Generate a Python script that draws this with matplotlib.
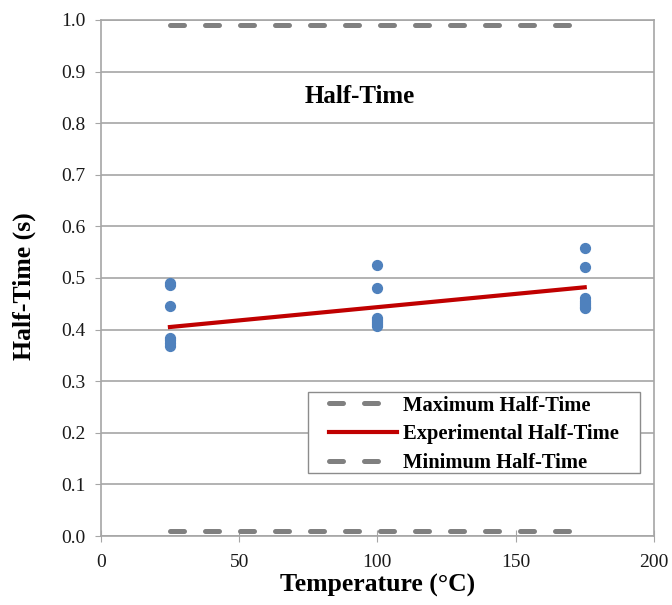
import matplotlib
matplotlib.use("Agg")
import matplotlib.pyplot as plt
from matplotlib.patches import Rectangle
import numpy as np

plt.rcParams['font.family'] = ['Liberation Serif', 'DejaVu Serif']

# Data
temps_25 = [25]*7
vals_25 = [0.490, 0.487, 0.446, 0.384, 0.379, 0.374, 0.369]
temps_100 = [100]*7
vals_100 = [0.525, 0.481, 0.422, 0.418, 0.414, 0.410, 0.407]
temps_175 = [175]*8
vals_175 = [0.558, 0.521, 0.461, 0.456, 0.452, 0.448, 0.444, 0.441]

fit_x = [25, 175]
fit_y = [0.405, 0.482]
max_x = [25, 170]
max_y = [0.99, 0.99]
min_x = [25, 170]
min_y = [0.01, 0.01]

fig = plt.figure(figsize=(6.72, 6.05), dpi=100)
ax = fig.add_axes([0.150, 0.114, 0.823, 0.853])

grid_c = '#a6a6a6'
ax.set_xlim(0, 200)
ax.set_ylim(0, 1.0)
ax.set_xticks(np.arange(0, 201, 50))
ax.set_yticks(np.arange(0, 1.01, 0.1))
ax.set_yticklabels([f"{v:.1f}" for v in np.arange(0, 1.01, 0.1)])
ax.yaxis.grid(True, color=grid_c, linewidth=1.2)
ax.set_axisbelow(True)
for s in ax.spines.values():
    s.set_color(grid_c)
    s.set_linewidth(1.2)
ax.tick_params(axis='both', colors=grid_c, labelcolor='#1a1a1a', labelsize=14)
ax.tick_params(axis='y', length=4, pad=7)
ax.tick_params(axis='x', direction='inout', length=8, pad=9)

allx = temps_25 + temps_100 + temps_175
ally = vals_25 + vals_100 + vals_175
ax.scatter(allx, ally, s=50, color='#4f81bd', zorder=3)

dash_c = '#808080'
ax.plot(max_x, max_y, color=dash_c, linewidth=3.6, dashes=(2.8, 4.2), dash_capstyle='round',
        label='Maximum Half-Time', zorder=2)
ax.plot(fit_x, fit_y, color='#c00000', linewidth=3, label='Experimental Half-Time', zorder=4)
ax.plot(min_x, min_y, color=dash_c, linewidth=3.6, dashes=(2.8, 4.2), dash_capstyle='round',
        label='Minimum Half-Time', zorder=2)

ax.text(93.5, 0.851, 'Half-Time', fontsize=18, fontweight='bold', ha='center', va='center')

ax.set_xlabel('Temperature (°C)', fontsize=18.5, fontweight='bold', labelpad=2)
ax.set_ylabel('Half-Time (s)', fontsize=18.5, fontweight='bold')
ax.yaxis.set_label_coords(-0.118, 0.4845)

# legend frame
frame = Rectangle((0.374, 0.122), 0.601, 0.157, transform=ax.transAxes,
                  facecolor='white', edgecolor='#8c8c8c', linewidth=1.0, zorder=5)
ax.add_patch(frame)
leg = ax.legend(loc='upper left', bbox_to_anchor=(0.4125, 0.272),
                prop={'weight': 'bold', 'size': 14.8}, frameon=False,
                handlelength=3.3, handletextpad=0.3,
                borderpad=0, labelspacing=0.42, borderaxespad=0)
leg.set_zorder(6)

fig.savefig('out.png', dpi=100)
